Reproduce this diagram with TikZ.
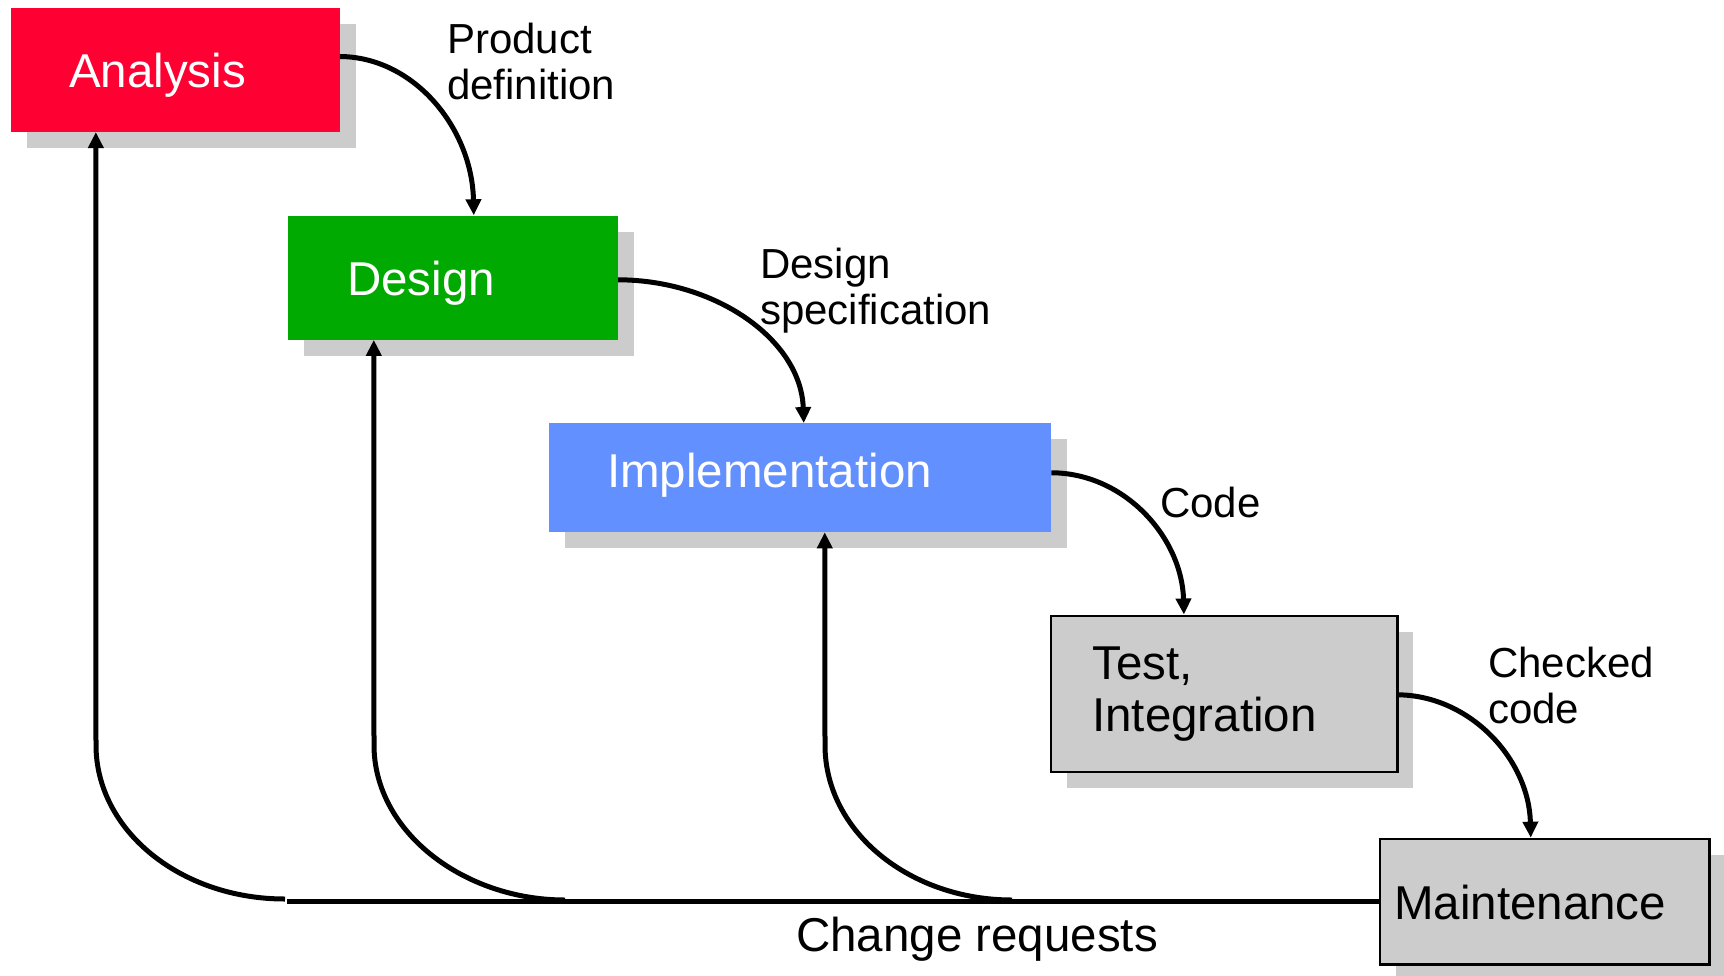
\documentclass[tikz,border=0pt]{standalone}
\usepackage{fontspec}
\setmainfont{Liberation Sans}
\usetikzlibrary{arrows.meta,shadows,calc}
\definecolor{anared}{HTML}{FF0033}
\definecolor{desgreen}{HTML}{00AA00}
\definecolor{implblue}{HTML}{6390FF}
\definecolor{boxgray}{HTML}{CCCCCC}

\begin{document}
\begin{tikzpicture}[x=1pt,y=-1pt,
  shadowed/.style={general shadow={fill=boxgray, shadow xshift=16pt, shadow yshift=-16pt}},
  phase/.style={rectangle, inner sep=0pt, shadowed},
  graybox/.style={phase, fill=boxgray, draw=black, line width=2.5pt},
  boxtext/.style={anchor=base west, inner sep=0pt, font=\fontsize{47.5}{52}\selectfont, align=left},
  flowlabel/.style={anchor=base west, inner sep=0pt, font=\fontsize{42}{45.5}\selectfont, align=left},
  flow/.style={line width=5pt, -{Triangle[length=16pt,width=15pt]}},
  feedback/.style={line width=5pt, -{Triangle[length=16pt,width=15pt]}},
]
\useasboundingbox (0,0) rectangle (1724,975);

% phase boxes
\node[phase, fill=anared, minimum width=328.7pt, minimum height=124.2pt] (analysis) at (175.4,69.8) {};
\node[phase, fill=desgreen, minimum width=330pt, minimum height=124.2pt] (design) at (453,277.6) {};
\node[phase, fill=implblue, minimum width=502.5pt, minimum height=108.9pt] (impl) at (799.9,477.7) {};
\node[graybox, minimum width=346.3pt, minimum height=156.1pt] (test) at (1224.3,693.8) {};
\node[graybox, minimum width=329.8pt, minimum height=125.4pt] (maint) at (1544.8,901.6) {};

% box captions (base anchor of a two-line caption sits on its last line)
\node[boxtext, text=white] (tAnalysis) at (69,87) {Analysis};
\node[boxtext, text=white] (tDesign) at (347,295) {Design};
\node[boxtext, text=white] (tImpl) at (607,487) {Implementation};
\node[boxtext] (tTest) at (1092,731) {Test,\\Integration};
\node[boxtext] (tMaint) at (1394,919) {Maintenance};

% forward flow
\draw[flow] ($(analysis.north east)+(0,49)$) .. controls (414,57) and (472,128) .. ($(design.north west)+(186,0)$);
\draw[flow] ($(design.north east)+(0,64.5)$) .. controls (716,280) and (801,340) .. ($(impl.north west)+(255.3,0)$);
\draw[flow] ($(impl.north east)+(0,49.7)$) .. controls (1125,473) and (1182,538) .. ($(test.north west)+(134,0)$);
\draw[flow] ($(test.north east)+(0,80.3)$) .. controls (1471,696) and (1529,760) .. ($(maint.north west)+(152.1,0)$);

% flow labels
\node[flowlabel] (lProd) at (447,99) {Product\\definition};
\node[flowlabel] (lSpec) at (760,324) {Design\\specification};
\node[flowlabel] (lCode) at (1160,517) {Code};
\node[flowlabel] (lChecked) at (1488,723) {Checked\\code};

% change request feedback
\coordinate (f1) at (285,899);
\coordinate (f2) at (565,900);
\coordinate (f3) at (1012,900);
\coordinate (cr) at (287,901.6);
\draw[line width=5pt] (maint.west) -- (cr);
\draw[feedback] (f1) .. controls (180,899) and (96,830) .. (96,745) -- ($(analysis.south west)+(85,0)$);
\draw[feedback] (f2) .. controls (464,900) and (374,832) .. (374,745) -- ($(design.south west)+(86,0)$);
\draw[feedback] (f3) .. controls (910,900) and (825,832) .. (825,745) -- ($(impl.south west)+(276.3,0)$);

\node[boxtext] (lChange) at (796,951) {Change requests};
\end{tikzpicture}
\end{document}
